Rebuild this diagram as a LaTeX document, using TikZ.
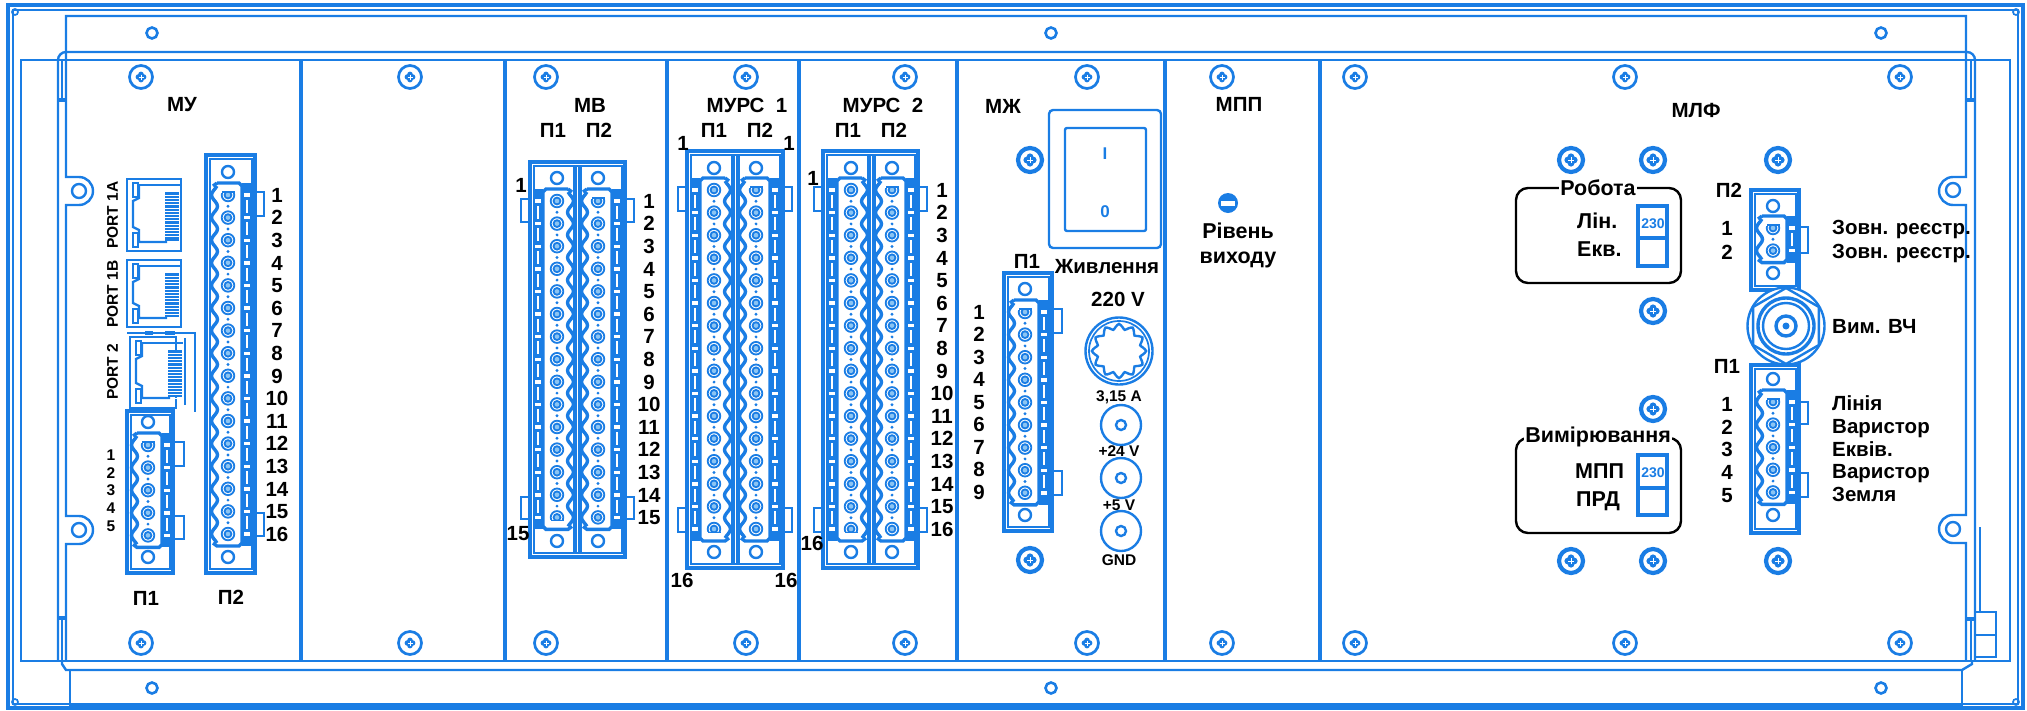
\documentclass[tikz,border=0pt]{standalone}
\usepackage{fontspec}
\setmainfont{Liberation Sans}
\definecolor{panelblue}{HTML}{1A7DE4}
\definecolor{pinblue}{HTML}{8CC4F2}

\tikzset{
  wire/.style={draw=panelblue, line width=2.4pt},
  wirethin/.style={draw=panelblue, line width=1.7pt},
  wirebold/.style={draw=panelblue, line width=3.4pt},
  divider/.style={draw=panelblue, line width=4.4pt},
  lbl/.style={font=\fontsize{20.5}{20.5}\selectfont\bfseries, inner sep=0pt, text height=14.6pt, text depth=0pt},
  lblbig/.style={font=\fontsize{21.5}{21.5}\selectfont\bfseries, inner sep=0pt, text height=15.4pt, text depth=0pt},
  lblsmall/.style={font=\fontsize{15.5}{15.5}\selectfont\bfseries, inner sep=0pt, text height=11pt, text depth=0pt},
  lblport/.style={font=\fontsize{15.5}{15.5}\selectfont\bfseries, inner sep=0pt, text height=11.5pt, text depth=0pt, rotate=90},
  lblmark/.style={font=\fontsize{17}{17}\selectfont\bfseries, text=panelblue, inner sep=0pt},
  lblswitch/.style={font=\fontsize{14}{14}\selectfont\bfseries, text=panelblue, inner sep=0pt},
  boxtitle/.style={fill=white, inner xsep=1pt},
  pics/screw/.style={code={
    \draw[draw=panelblue, line width=2.7pt] (0,0) circle[radius=11.5];
    \foreach \a in {0,90,180,270} \fill[panelblue] (\a:2.6) circle[radius=2.8];
    \draw[white, line width=.8pt] (-2.5,0) -- (2.5,0) (0,-2.5) -- (0,2.5);
  }},
  pics/boldscrew/.style={code={
    \draw[draw=panelblue, line width=4.2pt] (0,0) circle[radius=12];
    \foreach \a in {0,90,180,270} \fill[panelblue] (\a:3.2) circle[radius=3.4];
    \draw[white, line width=.8pt] (-3,0) -- (3,0) (0,-3) -- (0,3);
  }},
  % one row of terminals: count, side of the strip, terminal with the cap
  pics/termblock/.style n args={3}{code={
    \pgfmathsetmacro{\pitch}{22.6}
    \pgfmathsetmacro{\rowlen}{(#1-1)*\pitch}
    \pgfmathsetmacro{\wavek}{360/\pitch}
    \pgfmathtruncatemacro{\smp}{(#1-1)*10+9}
    \pgfmathtruncatemacro{\last}{#1-1}
    \begin{scope}[xscale=#2]
      \fill[panelblue] (14,-12) rectangle (24,\rowlen+12);
      \draw[wirebold] (-11,-12) -- (11,-12) -- (14,-9) -- (14,\rowlen+9) -- (11,\rowlen+12) -- (-11,\rowlen+12) -- (-15,\rowlen+9);
      \draw[wirebold] plot[smooth, domain=-9:\rowlen+9, samples=\smp] ({-13.5-3*cos(\wavek*\x)},\x);
      \draw[wirebold] (-15,-9) -- (-11,-12);
      \foreach \i in {0,...,\last} {
        \draw[draw=panelblue, line width=1.8pt] (0,\i*\pitch) circle[radius=6.3];
        \fill[panelblue] (0,\i*\pitch) circle[radius=4.4];
        \fill[pinblue] (0,\i*\pitch) circle[radius=2.3];
        \fill[white] (16,\i*\pitch-1.7) rectangle (22,\i*\pitch+1.7);
      }
      \foreach \i in {1,...,\last} {
        \fill[panelblue] (0,\i*\pitch-.5*\pitch) circle[radius=1.6];
        \fill[white] (17.8,\i*\pitch-.5*\pitch-6.5) rectangle (20.2,\i*\pitch-.5*\pitch+6.5);
      }
      % capped terminal
      \fill[white] (-7.5,{(#3)*\pitch-2.5*#2}) rectangle (7.5,{(#3)*\pitch-8*#2});
      \fill[panelblue] (-6.5,{(#3)*\pitch-2.5*#2}) rectangle (6.5,{(#3)*\pitch-4*#2});
    \end{scope}
  }},
  pics/rjport/.style n args={2}{code={
    \fill[panelblue] (38,13) rectangle (52,#2-10);
    \foreach \k in {1,...,#1} \draw[white, line width=.7pt] (38,13+\k*3.2) -- (52,13+\k*3.2);
    \draw[wire] (12,6) -- (53,6);
    \draw[wire] (12,6) -- (12,19) -- (6,22) -- (6,#2-24) -- (12,#2-21) -- (12,#2-9) -- (40,#2-9);
    \draw[wire] (6,4) rectangle (11,18);
    \draw[wire] (6,#2-18) rectangle (11,#2-4);
  }},
}
\newcommand{\housing}[4]{
  \draw[wirebold] (#1,#2) rectangle (#3,#4);
  \draw[wirethin] (#1+4,#2+4) rectangle (#3-3,#4-4);
}
\newcommand{\lugtab}[4]{
  \draw[wire] (#1,#3) -- (#2,#3) -- (#2,#4) -- (#1,#4);
}

\begin{document}
\begin{tikzpicture}[x=1pt, y=-1pt]
  \useasboundingbox (0,0) rectangle (2027,710);
  \pgfmathsetmacro{\rowstep}{22.6}

  % frame
  \draw[wirebold] (8,5) rectangle (2023,708);
  \draw[wire] (13,10) rectangle (2018,704);
  \foreach \cx/\cy in {15/12,2016/12,15/702,2016/702} \draw[wirethin] (\cx,\cy) circle[radius=3];

  % panel and rails
  \draw[wire] (21,60) rectangle (2010,661);
  \draw[wire] (66,660) -- (66,544) -- (79,544) arc[start angle=90, end angle=-90, radius=14] -- (66,516)
              -- (66,205) -- (79,205) arc[start angle=90, end angle=-90, radius=14] -- (66,177) -- (66,16) -- (1966,16)
              -- (1966,177) -- (1953,177) arc[start angle=-90, end angle=-270, radius=14] -- (1966,205)
              -- (1966,515) -- (1953,515) arc[start angle=-90, end angle=-270, radius=14] -- (1966,543) -- (1966,660);
  \draw[wire] (58,660) -- (58,60) arc[start angle=180, end angle=270, radius=8] -- (1967,52) arc[start angle=-90, end angle=0, radius=8] -- (1975,660);
  \draw[wirethin] (62,60) -- (62,100) (62,618) -- (62,660) (1971,60) -- (1971,100) (1971,618) -- (1971,660);
  \draw[wirebold] (58,100) -- (66,100) (58,618) -- (66,618) (1966,100) -- (1975,100) (1966,619) -- (1975,619);
  \draw[wire] (62,661) -- (62,664) -- (66,670) -- (1962,670) -- (1972,664) -- (1972,661);
  \draw[wire] (70,670) -- (70,705) -- (1962,705) -- (1962,670);
  \draw[wire] (1980,527) -- (1980,612);
  \draw[wire] (1975,612) rectangle (1996,657);
  \draw[wire] (1975,635) -- (1996,635);
  \foreach \hx in {152,1051,1881} {
    \draw[wire, line width=2.6pt] (\hx,33) circle[radius=5.5];
    \draw[wire, line width=2.6pt] (\hx,688) circle[radius=5.5];
  }
  \foreach \ey in {191,530} {
    \draw[wire] (79,\ey) circle[radius=7];
    \draw[wire] (1953,\ey-1) circle[radius=7];
  }
  \foreach \dx in {301,505,667,799,957,1165,1320} \draw[divider] (\dx,60) -- (\dx,661);

  % screws
  \foreach \sx in {141,410,546,746,905,1087,1222,1355,1625,1900} {
    \pic at (\sx,77) {screw};
    \pic at (\sx,643) {screw};
  }
  \foreach \sx/\sy in {1030/160,1030/560,1571/160,1653/160,1778/160,1653/311,1653/409,1571/561,1653/561,1778/561}
    \pic at (\sx,\sy) {boldscrew};

  % МУ
  \node[lbl] (mu) at (182,104) {МУ};
  \node[lbl] (muPa) at (146,598) {П1};
  \node[lbl] (muPb) at (231,597) {П2};
  \node[lblport] (porta) at (112,215) {PORT 1A};
  \node[lblport] (portb) at (112,294) {PORT 1B};
  \node[lblport] (portc) at (112,372) {PORT 2};
  \draw[wire] (127,179) rectangle (181,251);
  \pic at (127,179) {rjport={14}{72}};
  \draw[wire] (127,260) rectangle (181,327);
  \pic at (127,260) {rjport={13}{67}};
  \draw[wire] (127,333) -- (195,333) -- (195,412);
  \draw[wirethin] (185,338) -- (185,405);
  \draw[wire] (130,337) rectangle (176,408);
  \draw[wirebold] (145,333) -- (153,333) (165,333) -- (175,333);
  \pic at (130,337) {rjport={15}{70}};
  \foreach \i in {1,...,5} \node[lblsmall] (muA\i) at (111,{455+(\i-1)*17.7}) {\i};
  \housing{127}{411}{173}{573}
  \lugtab{173}{184}{442}{466}
  \lugtab{173}{184}{516}{539}
  \draw[wire] (148,422) circle[radius=6] (148,557) circle[radius=6];
  \pic at (148,445) {termblock={5}{1}{0}};
  \housing{206}{155}{255}{573}
  \lugtab{255}{264}{192}{216}
  \lugtab{255}{264}{513}{536}
  \draw[wire] (228,172) circle[radius=6] (228,557) circle[radius=6];
  \pic at (228,195) {termblock={16}{1}{0}};
  \foreach \i in {1,...,16} \node[lbl] (muB\i) at (277,{195+(\i-1)*\rowstep}) {\i};

  % МВ
  \node[lbl] (mv) at (590,105) {МВ};
  \node[lbl] (mvPa) at (553,130) {П1};
  \node[lbl] (mvPb) at (599,130) {П2};
  \housing{530}{162}{625}{557}
  \draw[wirebold] (575,165) -- (575,554) (580,165) -- (580,554);
  \lugtab{530}{521}{199}{222}
  \lugtab{530}{521}{497}{519}
  \lugtab{625}{634}{199}{222}
  \lugtab{625}{634}{497}{519}
  \draw[wire] (557,178) circle[radius=6] (598,178) circle[radius=6] (557,541) circle[radius=6] (598,541) circle[radius=6];
  \pic at (557,201) {termblock={15}{-1}{14}};
  \pic at (598,201) {termblock={15}{1}{0}};
  \node[lbl] (mvAa) at (521,185) {1};
  \node[lbl] (mvAb) at (518,533) {15};
  \foreach \i in {1,...,15} \node[lbl] (mvB\i) at (649,{201+(\i-1)*\rowstep}) {\i};

  % МУРС 1
  \node[lbl] (ura) at (747,105) {МУРС\ \ 1};
  \node[lbl] (uraPa) at (714,130) {П1};
  \node[lbl] (uraPb) at (760,130) {П2};
  \housing{687}{151}{783}{568}
  \draw[wirebold] (733,154) -- (733,565) (738,154) -- (738,565);
  \lugtab{687}{678}{187}{211}
  \lugtab{687}{678}{508}{532}
  \lugtab{783}{792}{187}{211}
  \lugtab{783}{792}{508}{532}
  \draw[wire] (714,168) circle[radius=6] (756,168) circle[radius=6] (714,552) circle[radius=6] (756,552) circle[radius=6];
  \pic at (714,190) {termblock={16}{-1}{15}};
  \pic at (756,190) {termblock={16}{1}{0}};
  \node[lbl] (uraAa) at (683,143) {1};
  \node[lbl] (uraAb) at (789,143) {1};
  \node[lbl] (uraAc) at (682,580) {16};
  \node[lbl] (uraAd) at (786,580) {16};

  % МУРС 2
  \node[lbl] (urb) at (883,105) {МУРС\ \ 2};
  \node[lbl] (urbPa) at (848,130) {П1};
  \node[lbl] (urbPb) at (894,130) {П2};
  \housing{823}{151}{918}{568}
  \draw[wirebold] (869,154) -- (869,565) (874,154) -- (874,565);
  \lugtab{823}{814}{187}{211}
  \lugtab{823}{814}{508}{532}
  \lugtab{918}{927}{187}{211}
  \lugtab{918}{927}{508}{532}
  \draw[wire] (851,168) circle[radius=6] (892,168) circle[radius=6] (851,552) circle[radius=6] (892,552) circle[radius=6];
  \pic at (851,190) {termblock={16}{-1}{15}};
  \pic at (892,190) {termblock={16}{1}{0}};
  \node[lbl] (urbAa) at (813,178) {1};
  \node[lbl] (urbAb) at (812,543) {16};
  \foreach \i in {1,...,16} \node[lbl] (urbB\i) at (942,{190+(\i-1)*\rowstep}) {\i};

  % МЖ
  \node[lbl] (mz) at (1003,106) {МЖ};
  \draw[wire, rounded corners=4pt] (1049,110) rectangle (1161,248);
  \draw[wire, rounded corners=2pt] (1065,128) rectangle (1146,231);
  \node[lblmark] (swOn) at (1105,154) {I};
  \node[lblmark] (swOff) at (1105,212) {0};
  \node[lbl] (mzPa) at (1027,261) {П1};
  \node[lbl] (mzPower) at (1107,266) {Живлення};
  \node[lbl] (mzVolt) at (1118,299) {220 V};
  \housing{1004}{273}{1052}{531}
  \lugtab{1052}{1062}{309}{333}
  \lugtab{1052}{1062}{471}{495}
  \draw[wire] (1025,289) circle[radius=6] (1025,515) circle[radius=6];
  \pic at (1025,312) {termblock={9}{1}{0}};
  \foreach \i in {1,...,9} \node[lbl] (mzA\i) at (979,{312+(\i-1)*22.5}) {\i};
  \begin{scope}[shift={(1119,351)}]
    \draw[wire] (0,0) circle[radius=33.5];
    \draw[wirethin] (0,0) circle[radius=30];
    \draw[wire] plot[smooth cycle, domain=0:352.5, samples=48] (\x:{24.5+2.6*cos(12*\x)});
  \end{scope}
  \node[lblsmall] (fuseA) at (1119,396) {3,15 A};
  \node[lblsmall] (fuseB) at (1119,451) {+24 V};
  \node[lblsmall] (fuseC) at (1119,505) {+5 V};
  \node[lblsmall] (fuseD) at (1119,560) {GND};
  \foreach \fy in {425,478,531} {
    \draw[wire] (1121,\fy) circle[radius=20];
    \draw[wire] (1121,\fy) circle[radius=5];
  }

  % МПП
  \node[lbl] (mp) at (1239,104) {МПП};
  \fill[panelblue] (1228,203) circle[radius=10];
  \fill[white] (1221,200.5) rectangle (1235,205.5);
  \node[lblbig] (level) at (1238,231) {Рівень};
  \node[lblbig] (levelb) at (1238,256) {виходу};

  % МЛФ
  \node[lbl] (ml) at (1696,110) {МЛФ};
  \draw[wire, draw=black, rounded corners=12pt] (1516,188) rectangle (1681,283);
  \draw[wire, draw=black, rounded corners=12pt] (1516,438) rectangle (1681,533);
  \node[lblbig, boxtitle] (work) at (1598,188) {Робота};
  \node[lblbig, boxtitle] (meas) at (1598,435) {Вимірювання};
  \node[lblbig, anchor=west] (workA) at (1577,221) {Лін.};
  \node[lblbig, anchor=west] (workB) at (1577,249) {Екв.};
  \node[lblbig, anchor=west] (measA) at (1575,471) {МПП};
  \node[lblbig, anchor=west] (measB) at (1576,499) {ПРД};
  \foreach \swTop/\swMid/\swBot/\swTxt/\swName in {206/238/266/224/swA,455/488/515/473/swB} {
    \draw[wirebold] (1638,\swTop) rectangle (1667,\swBot);
    \draw[wirebold] (1638,\swMid) -- (1667,\swMid);
    \node[lblswitch] (\swName) at (1653,\swTxt) {230};
  }
  % П2
  \node[lbl] (mlPb) at (1729,190) {П2};
  \housing{1751}{190}{1799}{290}
  \lugtab{1799}{1808}{227}{253}
  \draw[wire] (1773,206) circle[radius=6] (1773,273) circle[radius=6];
  \pic at (1773,228) {termblock={2}{1}{0}};
  \node[lbl] (mlBa) at (1727,228) {1};
  \node[lbl] (mlBb) at (1727,252) {2};
  \node[lbl, anchor=west] (extA) at (1832,227) {Зовн. реєстр.};
  \node[lbl, anchor=west] (extB) at (1832,251) {Зовн. реєстр.};
  % П1
  \node[lbl] (mlPa) at (1727,366) {П1};
  \housing{1751}{365}{1799}{533}
  \lugtab{1799}{1808}{402}{424}
  \lugtab{1799}{1808}{473}{497}
  \draw[wire] (1773,379) circle[radius=6] (1773,515) circle[radius=6];
  \pic at (1773,402) {termblock={5}{1}{0}};
  \foreach \i in {1,...,5} \node[lbl] (mlA\i) at (1727,{404+(\i-1)*22.7}) {\i};
  \node[lbl, anchor=west] (lineA) at (1832,403) {Лінія};
  \node[lbl, anchor=west] (lineB) at (1832,426) {Варистор};
  \node[lbl, anchor=west] (lineC) at (1832,449) {Еквів.};
  \node[lbl, anchor=west] (lineD) at (1832,471) {Варистор};
  \node[lbl, anchor=west] (lineE) at (1832,494) {Земля};
  % BNC
  \begin{scope}[shift={(1786,326)}]
    \fill[white] (0,0) circle[radius=39];
    \draw[wire] (0,0) circle[radius=38.5];
    \draw[wire] (90:38) -- (150:38) -- (210:38) -- (270:38) -- (330:38) -- (30:38) -- cycle;
    \draw[wirebold] (0,0) circle[radius=28];
    \draw[wire] (0,0) circle[radius=23];
    \draw[wirebold] (0,0) circle[radius=10];
    \fill[panelblue] (0,0) circle[radius=3.5];
  \end{scope}
  \node[lbl, anchor=west] (rfMeas) at (1832,326) {Вим. ВЧ};
\end{tikzpicture}
\end{document}
